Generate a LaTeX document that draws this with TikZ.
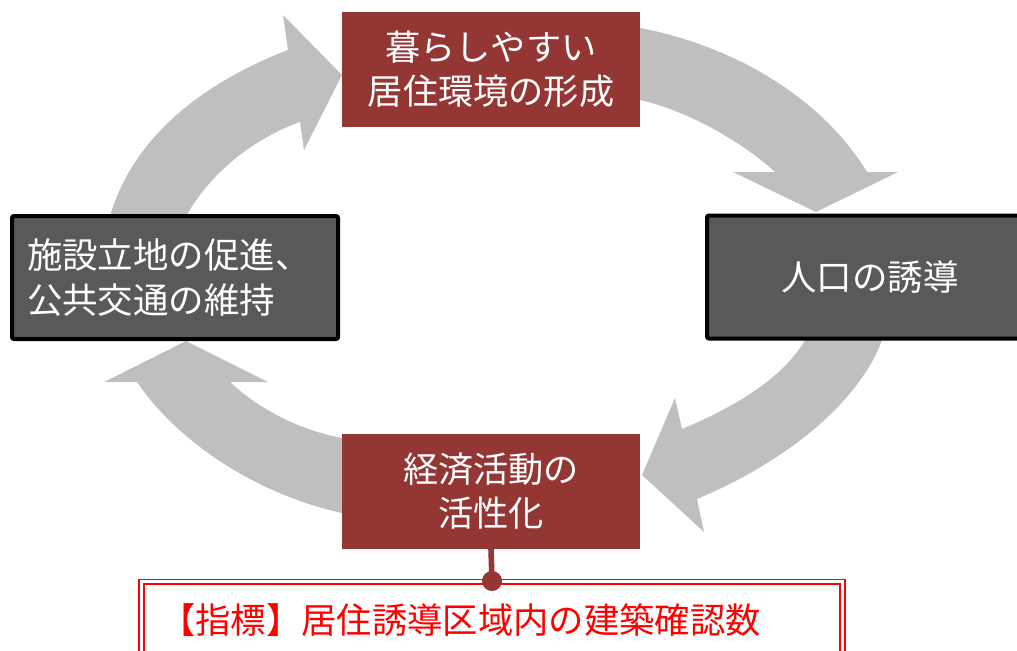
\documentclass[tikz,border=0pt]{standalone}
\usepackage{fontspec}
\newfontfamily\jp{Noto Sans CJK JP}
\definecolor{boxred}{HTML}{943634}
\definecolor{boxgray}{HTML}{595959}
\definecolor{arrgray}{HTML}{BFBFBF}
\definecolor{indred}{HTML}{FF0000}
\tikzset{
  redbox/.style={fill=boxred, draw=none, minimum width=223.5pt, minimum height=86.25pt,
    inner sep=0pt, align=center, text=white, font=\jp\fontsize{26.4}{33}\selectfont},
  graybox/.style={fill=boxgray, draw=black, line width=3pt, rounded corners=1.5pt,
    minimum width=244.5pt, minimum height=92.25pt, inner sep=0pt, text=white,
    font=\jp\fontsize{26.6}{33.5}\selectfont},
  cyclearrow/.style={fill=arrgray, draw=none},
  indbox/.style={draw=indred, double=white, double distance=2.4pt, line width=1.1pt,
    minimum width=525.75pt, minimum height=67.5pt, inner sep=0pt},
  indtext/.style={text=indred, inner sep=0pt, font=\jp\fontsize{26.5}{30}\selectfont},
  conn/.style={draw=boxred, line width=4.2pt},
  dotnode/.style={circle, fill=boxred, minimum size=15pt, inner sep=0pt}
}
\begin{document}
\begin{tikzpicture}[x=0.75pt,y=-0.75pt]
\useasboundingbox (0,0) rectangle (1017,650);
% cycle arrows (behind boxes)
\fill[cyclearrow] (111,225) -- (111,213) .. controls (135,135) and (205,82) .. (288,50)
  -- (283,15) -- (342,75) -- (304,150) -- (300,122)
  .. controls (250,140) and (210,175) .. (188,213) -- (188,225) -- cycle;
\fill[cyclearrow] (630,28) -- (640,28) .. controls (730,45) and (820,95) .. (867,172)
  -- (898,172) -- (816,212) -- (733,172) -- (775,172)
  .. controls (740,140) and (685,110) .. (640,100) -- (630,100) -- cycle;
\fill[cyclearrow] (882,330) -- (882,340) .. controls (860,400) and (790,460) .. (697,499)
  -- (704,532) -- (642,475) -- (675,398) -- (682,429)
  .. controls (740,405) and (785,375) .. (805,340) -- (805,330) -- cycle;
\fill[cyclearrow] (352,513) -- (342,513) .. controls (260,495) and (180,445) .. (137,382)
  -- (104,382) -- (186,341) -- (268,382) -- (230,382)
  .. controls (260,410) and (300,430) .. (342,438) -- (352,438) -- cycle;
% boxes
\node[redbox] (top) at (491,69) {暮らしやすい\\居住環境の形成};
\node[graybox, align=left, text width=222pt] (left) at (175,277.5) {施設立地の促進、\\公共交通の維持};
\node[graybox, align=center] (right) at (870,277) {人口の誘導};
\node[redbox] (bot) at (491,491) {経済活動の\\活性化};
% indicator
\node[indbox, anchor=north west] (ind) at (140.7,581) {};
\node[indtext, anchor=west] (indt) at (160,620) {【指標】居住誘導区域内の建築確認数};
\node[dotnode] (dot) at (492,581) {};
\draw[conn] (bot.south) -- (dot.center);
\end{tikzpicture}
\end{document}
